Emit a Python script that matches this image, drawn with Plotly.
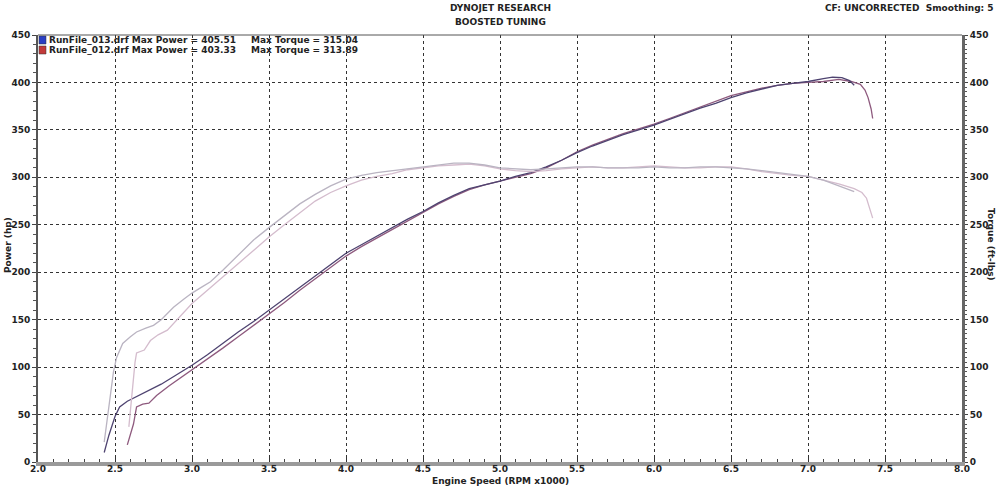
import plotly.graph_objects as go

# ---------------- data ----------------
rpm_p13 = [2.43, 2.46, 2.50, 2.53, 2.58, 2.65, 2.73, 2.80, 2.90, 3.00, 3.10, 3.20, 3.30, 3.40, 3.50,
           3.60, 3.70, 3.80, 3.90, 4.00, 4.10, 4.20, 4.30, 4.40, 4.50, 4.60, 4.70, 4.80, 4.90, 5.00,
           5.10, 5.20, 5.30, 5.40, 5.50, 5.60, 5.70, 5.80, 5.90, 6.00, 6.10, 6.20, 6.30, 6.40, 6.50,
           6.60, 6.70, 6.80, 6.90, 7.00, 7.10, 7.16, 7.22, 7.27, 7.30]
pwr_p13 = [10, 28, 48, 58, 64, 70, 76, 82, 92, 102, 113, 125, 137, 148, 160,
           172, 184, 196, 208, 220, 229, 238, 247, 256, 264, 273, 281, 288, 292, 296,
           301, 305, 311, 318, 326, 333, 339, 345, 350, 355, 361, 367, 373, 378, 384,
           389, 393, 397, 399, 401, 404, 405.5, 405, 402, 397]

rpm_p12 = [2.58, 2.62, 2.64, 2.68, 2.72, 2.77, 2.85, 2.92, 3.00, 3.10, 3.20, 3.30, 3.40, 3.50,
           3.60, 3.70, 3.80, 3.90, 4.00, 4.10, 4.20, 4.30, 4.40, 4.50, 4.60, 4.70, 4.80, 4.90, 5.00,
           5.10, 5.20, 5.30, 5.40, 5.50, 5.60, 5.70, 5.80, 5.90, 6.00, 6.10, 6.20, 6.30, 6.40, 6.50,
           6.60, 6.70, 6.80, 6.90, 7.00, 7.10, 7.20, 7.28, 7.34, 7.37, 7.39, 7.41, 7.42]
pwr_p12 = [18, 40, 58, 61, 62, 70, 80, 88, 97, 108, 120, 132, 144, 156,
           168, 181, 193, 205, 217, 227, 236, 245, 254, 263, 272, 280, 287, 292, 296,
           300, 304, 310, 318, 327, 334, 340, 346, 351, 356, 362, 368, 374, 380, 386,
           390, 394, 397, 399, 400, 401, 403.3, 401, 398, 392, 384, 372, 362]

rpm_t13 = [2.43, 2.46, 2.49, 2.51, 2.55, 2.60, 2.64, 2.70, 2.75, 2.80, 2.88, 2.95, 3.00, 3.06, 3.12,
           3.20, 3.30, 3.40, 3.50, 3.60, 3.70, 3.80, 3.90, 4.00, 4.10, 4.20, 4.30, 4.40, 4.50,
           4.60, 4.70, 4.80, 4.90, 5.00, 5.10, 5.20, 5.30, 5.40, 5.50, 5.60, 5.70, 5.80, 5.90,
           6.00, 6.10, 6.20, 6.30, 6.40, 6.50, 6.60, 6.70, 6.80, 6.90, 7.00, 7.10, 7.20, 7.27, 7.30]
trq_t13 = [21, 60, 95, 110, 125, 132, 137, 141, 144, 150, 163, 172, 178, 184, 190,
           202, 218, 234, 247, 260, 272, 282, 291, 298, 302, 305, 307, 309, 311,
           313, 315, 315, 313, 310, 309, 308, 309, 310, 311, 311, 310, 310, 310,
           311, 310, 310, 311, 311, 310, 309, 307, 305, 303, 301, 297, 291, 287, 285]

rpm_t12 = [2.59, 2.61, 2.63, 2.64, 2.69, 2.73, 2.78, 2.84, 2.92, 3.00, 3.10, 3.20, 3.30, 3.40,
           3.50, 3.60, 3.70, 3.80, 3.90, 4.00, 4.10, 4.20, 4.30, 4.40, 4.50, 4.60, 4.70, 4.80,
           4.90, 5.00, 5.10, 5.20, 5.30, 5.40, 5.50, 5.60, 5.70, 5.80, 5.90, 6.00, 6.10, 6.20,
           6.30, 6.40, 6.50, 6.60, 6.70, 6.80, 6.90, 7.00, 7.10, 7.20, 7.30, 7.35, 7.38, 7.40, 7.42]
trq_t12 = [37, 75, 105, 115, 118, 128, 134, 139, 153, 167, 181, 195, 210, 224,
           237, 250, 263, 275, 284, 291, 297, 301, 304, 308, 310, 312, 313, 314,
           312, 309, 307, 306, 307, 309, 310, 311, 310, 310, 311, 312, 311, 310,
           310, 311, 311, 309, 306, 304, 302, 301, 297, 293, 288, 284, 278, 268, 257]

x_ticks = [2.0, 2.5, 3.0, 3.5, 4.0, 4.5, 5.0, 5.5, 6.0, 6.5, 7.0, 7.5, 8.0]
y_ticks = [0, 50, 100, 150, 200, 250, 300, 350, 400, 450]

legend_rows = [
    ("RunFile_013.drf Max Power = 405.51", "Max Torque = 315.04", "#2a3fc4"),
    ("RunFile_012.drf Max Power = 403.33", "Max Torque = 313.89", "#c23a3a"),
]

# ---------------- figure ----------------
W, H = 1000, 487
L, R, T, B = 38, 38, 35, 25
PW, PH = W - L - R, H - T - B

def px(x):
    return (x - L) / PW

def py(y):
    return (H - B - y) / PH

FONT = "DejaVu Sans"

fig = go.Figure()
fig.add_trace(go.Scatter(x=rpm_t12, y=trq_t12, mode="lines", yaxis="y2",
                         line=dict(color="#d4bccd", width=1.3), showlegend=False))
fig.add_trace(go.Scatter(x=rpm_t13, y=trq_t13, mode="lines", yaxis="y2",
                         line=dict(color="#bab4c2", width=1.3), showlegend=False))
fig.add_trace(go.Scatter(x=rpm_p12, y=pwr_p12, mode="lines",
                         line=dict(color="#8e5a7e", width=1.3), showlegend=False))
fig.add_trace(go.Scatter(x=rpm_p13, y=pwr_p13, mode="lines",
                         line=dict(color="#4e4370", width=1.3), showlegend=False))

axis_font = dict(family=FONT, size=9, color="#222")

fig.update_layout(
    width=W, height=H,
    margin=dict(l=L, r=R, t=T, b=B, pad=0, autoexpand=False),
    paper_bgcolor="white", plot_bgcolor="white",
    xaxis=dict(range=[2.0, 8.0], tickvals=x_ticks, ticktext=[f"<b>{v:.1f}</b>" for v in x_ticks],
               automargin=False, ticklabelstandoff=-5,
               showgrid=True, gridcolor="#333", gridwidth=1, griddash="dot",
               showline=True, linecolor="#9a9a9a", linewidth=4,
               ticks="inside", ticklen=4, tickcolor="#333",
               minor=dict(dtick=0.1, ticks="inside", ticklen=3, tickcolor="#444", showgrid=False),
               tickfont=dict(family=FONT, size=9, color="#222"), zeroline=False, fixedrange=True),
    yaxis=dict(range=[0, 450], tickvals=y_ticks, ticktext=[f"<b>{v}</b>" for v in y_ticks],
               automargin=False,
               showgrid=True, gridcolor="#333", gridwidth=1, griddash="dot",
               showline=True, linecolor="#555", linewidth=2,
               ticks="outside", ticklen=4, tickcolor="#444",
               minor=dict(dtick=10, ticks="outside", ticklen=3, tickcolor="#555", showgrid=False),
               tickfont=axis_font, zeroline=False, fixedrange=True),
    yaxis2=dict(range=[0, 450], tickvals=y_ticks, ticktext=[f"<b>{v}</b>" for v in y_ticks],
                automargin=False,
                overlaying="y", side="right",
                showgrid=False, showline=True, linecolor="#666", linewidth=3,
                ticks="outside", ticklen=3, tickcolor="#444",
                minor=dict(dtick=5, ticks="outside", ticklen=2, tickcolor="#555"),
                tickfont=axis_font, zeroline=False, fixedrange=True),
    showlegend=False,
)

# top border
fig.add_shape(type="line", xref="paper", yref="paper", x0=0, x1=1, y0=1, y1=1,
              line=dict(color="#555", width=1))

def ann(text, x, y, xa="left", ya="middle", angle=0, size=9):
    fig.add_annotation(text=f"<b>{text}</b>", xref="paper", yref="paper",
                       x=px(x), y=py(y), xanchor=xa, yanchor=ya, showarrow=False,
                       textangle=angle, font=dict(family=FONT, size=size, color="#222"))

ann("DYNOJET RESEARCH", 500, 8, xa="center")
ann("BOOSTED TUNING", 500, 22, xa="center")
ann("CF: UNCORRECTED  Smoothing: 5", 996, 8, xa="right")
ann("Engine Speed (RPM x1000)", 500, 481, xa="center")
ann("Power (hp)", 8, 245, xa="center", angle=-90)
ann("Torque (ft-lbs)", 991, 245, xa="center", angle=90)

for i, (t1, t2, col) in enumerate(legend_rows):
    yc = 40 + i * 10
    fig.add_shape(type="rect", xref="paper", yref="paper",
                  x0=px(39), x1=px(46), y0=py(yc + 4), y1=py(yc - 4),
                  line=dict(color="#333", width=0.5), fillcolor=col)
    ann(t1, 47, yc)
    ann(t2, 249, yc)

fig.write_html("out.html")
